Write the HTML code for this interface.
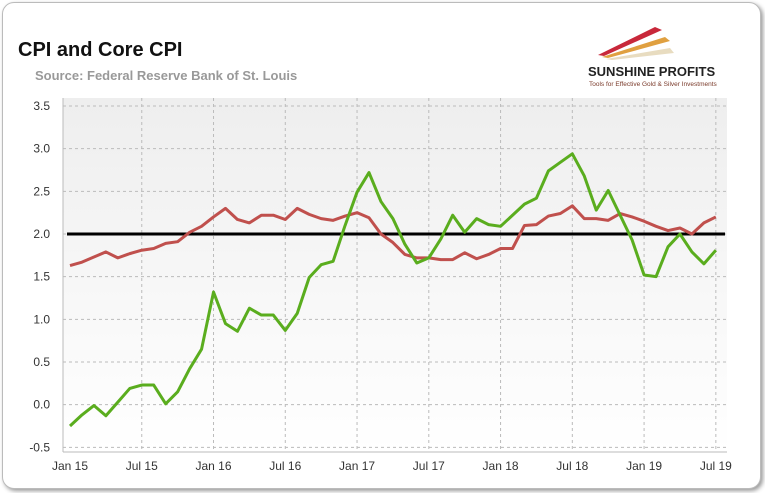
<!DOCTYPE html>
<html><head><meta charset="utf-8"><style>
body{margin:0;background:#fff;width:765px;height:493px;overflow:hidden;font-family:"Liberation Sans",sans-serif}
#card{position:absolute;left:2px;top:2px;width:757px;height:485px;border:1px solid #bbb;border-radius:12px;box-shadow:2px 2px 4px #999;background:#fff}
</style></head><body>
<div id="card"></div>
<svg id="svg" width="765" height="493" style="position:absolute;left:0;top:0">
<defs><linearGradient id="bg" x1="0" y1="0" x2="0" y2="1"><stop offset="0" stop-color="#eeeeee"/><stop offset="1" stop-color="#ffffff"/></linearGradient></defs>
<text x="18" y="56" font-size="20" font-weight="bold" fill="#111">CPI and Core CPI</text>
<text x="35" y="80" font-size="13" font-weight="bold" fill="#999">Source: Federal Reserve Bank of St. Louis</text>
<g>
<polygon points="598,55 655,27 662,30 604,56" fill="#c8283a"/>
<polygon points="602,57 665,37 670,41 608,58" fill="#e0a040"/>
<polygon points="606,59 670,48 674,53 612,60" fill="#e8dcc0"/>
<text x="588" y="76" font-size="13" font-weight="bold" fill="#222">SUNSHINE PROFITS</text>
<text x="589" y="86" font-size="6.5" fill="#7a3a2a">Tools for Effective Gold &amp; Silver Investments</text>
</g>
<g id="plot"></g>
</svg>
<script>
const yTicks=[3.5,3.0,2.5,2.0,1.5,1.0,0.5,0.0,-0.5];
const xTickLabels=["Jan 15","Jul 15","Jan 16","Jul 16","Jan 17","Jul 17","Jan 18","Jul 18","Jan 19","Jul 19"];
const cpi=[-0.25,-0.12,-0.01,-0.13,0.03,0.19,0.23,0.23,0.01,0.15,0.42,0.65,1.32,0.95,0.86,1.13,1.05,1.05,0.87,1.07,1.49,1.64,1.68,2.1,2.49,2.72,2.38,2.18,1.88,1.66,1.72,1.94,2.22,2.02,2.18,2.11,2.09,2.22,2.35,2.42,2.74,2.84,2.94,2.68,2.28,2.51,2.22,1.93,1.52,1.50,1.85,2.00,1.79,1.65,1.81];
const core=[1.63,1.67,1.73,1.79,1.72,1.77,1.81,1.83,1.89,1.91,2.02,2.09,2.2,2.3,2.17,2.13,2.22,2.22,2.17,2.3,2.23,2.18,2.16,2.21,2.25,2.19,2.0,1.9,1.76,1.72,1.72,1.7,1.7,1.78,1.71,1.76,1.83,1.83,2.1,2.11,2.21,2.24,2.33,2.18,2.18,2.16,2.24,2.20,2.15,2.09,2.04,2.07,2.0,2.13,2.2];
const target=2.0;
const NS="http://www.w3.org/2000/svg";
const L=63,R=727,T=98,B=452;
const yS=v=>106+(3.5-v)*85.33;
const xS=i=>70+i*11.96;
const g=document.getElementById('plot');
function mk(t,a){const e=document.createElementNS(NS,t);for(const k in a)e.setAttribute(k,a[k]);g.appendChild(e);return e;}
let bg=mk('rect',{x:L,y:T,width:R-L,height:B-T,fill:'url(#bg)'});


yTicks.forEach(v=>{
 const y=yS(v);
 let l=mk('line',{x1:L,x2:R,y1:y,y2:y,stroke:'#bbb','stroke-dasharray':'3,3'});
 
 
 let t=mk('text',{x:50,y:y+4,'text-anchor':'end','font-size':12,fill:'#333'});
 t.textContent=v.toFixed(1);
 
 
});
xTickLabels.forEach((s,k)=>{
 const x=xS(k*6);
 if(k>0){let l=mk('line',{x1:x,x2:x,y1:T,y2:B,stroke:'#bbb','stroke-dasharray':'3,3'});
 
 }
 let t=mk('text',{x:x,y:470,'text-anchor':'middle','font-size':12,fill:'#333'});
 t.textContent=s;
 
 
});
let ax=mk('line',{x1:L,x2:L,y1:T,y2:B,stroke:'#bbb'});


let ax2=mk('line',{x1:L,x2:R,y1:B,y2:B,stroke:'#bbb'});


let tl=mk('line',{x1:67,x2:725,y1:yS(target),y2:yS(target),stroke:'#000','stroke-width':3});


function series(d,c,n){
 let p=mk('polyline',{points:d.map((v,i)=>xS(i)+','+yS(v)).join(' '),fill:'none',stroke:c,'stroke-width':3,'stroke-linejoin':'round'});
 
 
}
series(core,'#c0504d','core-cpi-line');
series(cpi,'#5aad1e','cpi-line');
</script>
</body></html>
